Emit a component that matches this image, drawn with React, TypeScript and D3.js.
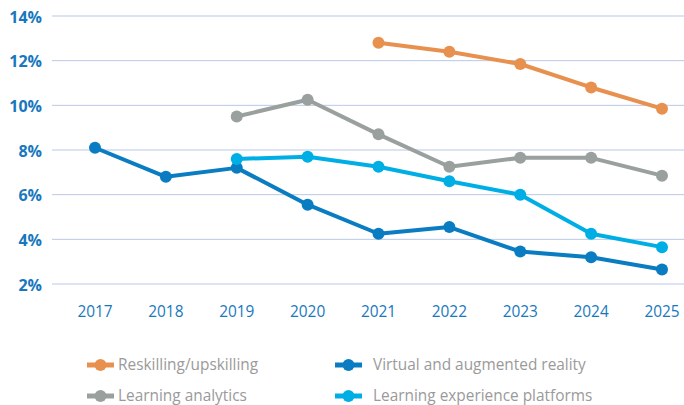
import { useEffect, useRef } from "react";
import * as d3 from "d3";

const years = [2017, 2018, 2019, 2020, 2021, 2022, 2023, 2024, 2025];
const yTicks = [2, 4, 6, 8, 10, 12, 14];

const reskilling = [null, null, null, null, 12.8, 12.4, 11.85, 10.8, 9.85];
const analytics = [null, null, 9.5, 10.25, 8.7, 7.25, 7.65, 7.65, 6.85];
const virtualReality = [8.1, 6.8, 7.2, 5.55, 4.25, 4.55, 3.45, 3.2, 2.65];
const platforms = [null, null, 7.6, 7.7, 7.25, 6.6, 6.0, 4.25, 3.65];

const seriesNames = [
  "Reskilling/upskilling",
  "Virtual and augmented reality",
  "Learning analytics",
  "Learning experience platforms",
];
const seriesColors = ["#E8914F", "#0A7CC1", "#99A09E", "#00AEE6"];

function App() {
  const ref = useRef<SVGSVGElement>(null);

  useEffect(() => {
    const svg = d3.select(ref.current);
    svg.selectAll("*").remove();

    const width = 684;
    const left = 52;

    const x = d3.scalePoint<number>().domain(years).range([95, 662]);
    const y = d3.scaleLinear([2, 14], [284, 16]);

    // gridlines + y labels
    const yAxis = svg.append("g");
    yTicks.forEach((t) => {
      yAxis
        .append("line")
        .attr("x1", left)
        .attr("x2", width)
        .attr("y1", y(t))
        .attr("y2", y(t))
        .attr("stroke", "#B9C8E6")
        .attr("stroke-width", 1);
      yAxis
        .append("text")
        .attr("x", 42)
        .attr("y", y(t) + 1)
        .attr("dy", "0.35em")
        .attr("text-anchor", "end")
        .attr("fill", "#1878BE")
        .attr("font-size", "16px")
        .attr("font-weight", "bold")
        .text(`${t}%`);
    });

    // x labels
    svg
      .append("g")
      .selectAll("text")
      .data(years)
      .enter()
      .append("text")
      .attr("x", (d) => x(d)!)
      .attr("y", 317)
      .attr("text-anchor", "middle")
      .attr("fill", "#1878BE")
      .attr("font-size", "15.4px")
      .text((d) => d);

    const allSeries = [reskilling, virtualReality, analytics, platforms];
    // draw order: VR, analytics, platforms, reskilling on top
    const drawOrder = [1, 2, 3, 0];

    const line = d3
      .line<number | null>()
      .defined((d) => d != null)
      .x((_, i) => x(years[i])!)
      .y((d) => y(d as number));

    drawOrder.forEach((k) => {
      const data = allSeries[k];
      const g = svg.append("g");
      g.append("path")
        .attr("d", line(data))
        .attr("fill", "none")
        .attr("stroke", seriesColors[k])
        .attr("stroke-width", 4)
        .attr("stroke-linejoin", "round");
      g.selectAll("circle")
        .data(data.map((v, i) => ({ v, i })).filter((d) => d.v != null))
        .enter()
        .append("circle")
        .attr("cx", (d) => x(years[d.i])!)
        .attr("cy", (d) => y(d.v as number))
        .attr("r", 6)
        .attr("fill", seriesColors[k]);
    });

    // legend
    const legendPos = [
      [87, 365],
      [335, 365],
      [87, 396],
      [335, 396],
    ];
    seriesNames.forEach((name, k) => {
      const [lx, ly] = legendPos[k];
      const g = svg.append("g").attr("transform", `translate(${lx},${ly})`);
      g.append("line")
        .attr("x1", 0)
        .attr("x2", 27)
        .attr("y1", 0)
        .attr("y2", 0)
        .attr("stroke", seriesColors[k])
        .attr("stroke-width", 5);
      g.append("circle").attr("cx", 13.5).attr("cy", 0).attr("r", 6).attr("fill", seriesColors[k]);
      g.append("text")
        .attr("x", k % 2 === 0 ? 31 : 38)
        .attr("y", 0)
        .attr("dy", "0.35em")
        .attr("fill", "#9A9A9A")
        .attr("font-size", "15.4px")
        .text(name);
    });
  }, []);

  return (
    <svg
      ref={ref}
      width={684}
      height={405}
      style={{ position: "absolute", left: 0, top: 0, fontFamily: "'Open Sans', sans-serif", background: "#fff" }}
    />
  );
}

export default App;
